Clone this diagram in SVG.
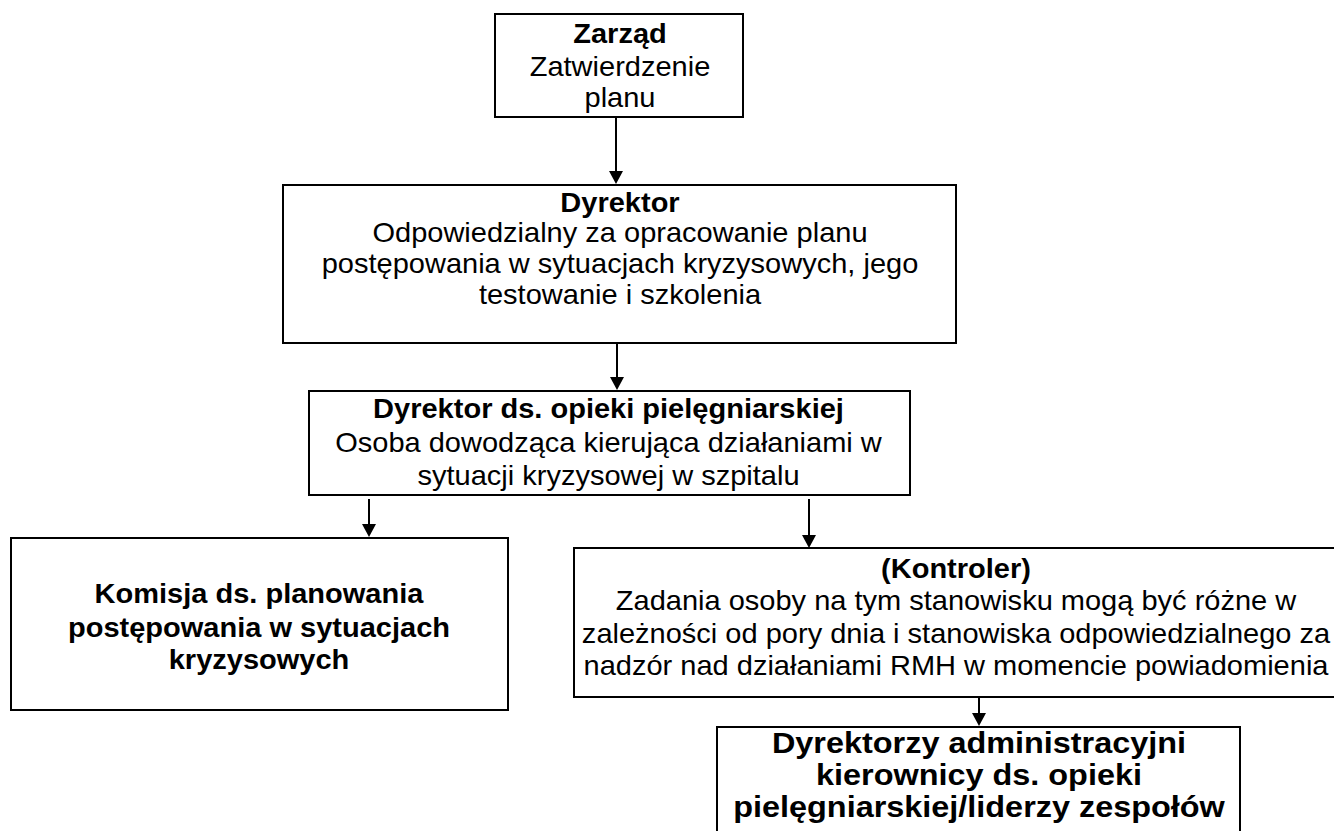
<svg xmlns="http://www.w3.org/2000/svg" width="1334" height="831" viewBox="0 0 1334 831">
<style>
rect.box{fill:#fff;stroke:#000;stroke-width:2}
text{font-family:"Liberation Sans",Arial,sans-serif;font-size:27px;fill:#000;text-anchor:middle}
.b{font-weight:bold}
.big{font-size:30px}
line.c{stroke:#000;stroke-width:2}
path.h{fill:#000}
</style>
<rect width="1334" height="831" fill="#fff"/>
<g id="connectors">
<line class="c" x1="616" y1="117" x2="616" y2="172"/>
<path class="h" d="M609,171 L623,171 L616,184 Z"/>
<line class="c" x1="617" y1="343" x2="617" y2="378"/>
<path class="h" d="M610,377 L624,377 L617,390 Z"/>
<line class="c" x1="369" y1="499" x2="369" y2="525"/>
<path class="h" d="M362,524 L376,524 L369,537 Z"/>
<line class="c" x1="809" y1="499" x2="809" y2="536"/>
<path class="h" d="M802,535 L816,535 L809,548 Z"/>
<line class="c" x1="979" y1="697" x2="979" y2="714"/>
<path class="h" d="M972,713 L986,713 L979,726 Z"/>
</g>
<g id="zarzad">
<rect class="box" x="495" y="14" width="248" height="103"/>
<g transform="translate(620 0) scale(1.075 1)">
<text class="b" x="0" y="43">Zarząd</text>
<text x="0" y="76">Zatwierdzenie</text>
<text x="0" y="107">planu</text>
</g>
</g>
<g id="dyrektor">
<rect class="box" x="283" y="185" width="673" height="158"/>
<g transform="translate(620 0) scale(1.075 1)">
<text class="b" x="0" y="212">Dyrektor</text>
<text x="0" y="242">Odpowiedzialny za opracowanie planu</text>
<text x="0" y="273">postępowania w sytuacjach kryzysowych, jego</text>
<text x="0" y="304">testowanie i szkolenia</text>
</g>
</g>
<g id="dyrektor-opieki">
<rect class="box" x="309" y="391" width="601" height="104"/>
<g transform="translate(608.5 0) scale(1.075 1)">
<text class="b" x="0" y="418">Dyrektor ds. opieki pielęgniarskiej</text>
<text x="0" y="452">Osoba dowodząca kierująca działaniami w</text>
<text x="0" y="485">sytuacji kryzysowej w szpitalu</text>
</g>
</g>
<g id="komisja">
<rect class="box" x="11" y="538" width="497" height="172"/>
<g transform="translate(259 0) scale(1.075 1)">
<text class="b" x="0" y="603">Komisja ds. planowania</text>
<text class="b" x="0" y="637">postępowania w sytuacjach</text>
<text class="b" x="0" y="669">kryzysowych</text>
</g>
</g>
<g id="kontroler">
<rect class="box" x="574" y="548" width="820" height="149"/>
<g transform="translate(956 0) scale(1.075 1)">
<text class="b" x="0" y="578">(Kontroler)</text>
<text x="0" y="610">Zadania osoby na tym stanowisku mogą być różne w</text>
<text x="0" y="643">zależności od pory dnia i stanowiska odpowiedzialnego za</text>
<text x="0" y="675">nadzór nad działaniami RMH w momencie powiadomienia</text>
</g>
</g>
<g id="dyrektorzy">
<rect class="box" x="717" y="727" width="523" height="130"/>
<g transform="translate(979 0) scale(1.08 1)">
<text class="b big" x="0" y="753">Dyrektorzy administracyjni</text>
<text class="b big" x="0" y="785">kierownicy ds. opieki</text>
<text class="b big" x="0" y="817">pielęgniarskiej/liderzy zespołów</text>
</g>
</g>
</svg>
